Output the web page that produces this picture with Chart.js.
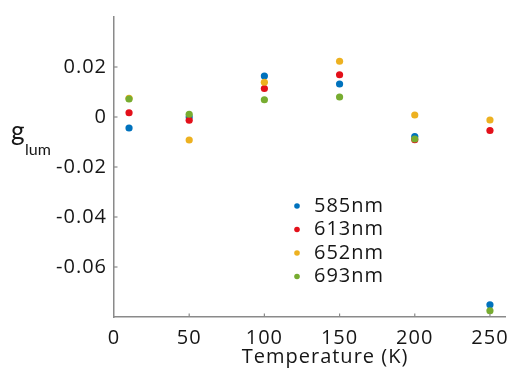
<!DOCTYPE html>
<html>
<head>
<meta charset="utf-8">
<script src="https://cdn.jsdelivr.net/npm/chart.js@4/dist/chart.umd.min.js"></script>
<style>
html,body{margin:0;padding:0;background:#fff;}
#wrap{width:511px;height:368px;position:relative;}
</style>
</head>
<body>
<div id="wrap"><canvas id="c" width="511" height="368"></canvas></div>
<script>
const temps = [10, 50, 100, 150, 200, 250];
const g585 = [-0.0044, 0.0000, 0.0164, 0.0132, -0.0078, -0.0751];
const g613 = [0.0017, -0.0013, 0.0114, 0.0169, -0.0091, -0.0054];
const g652 = [0.0075, -0.0092, 0.0139, 0.0223, 0.0008, -0.0012];
const g693 = [0.0072, 0.0011, 0.0069, 0.0080, -0.0088, -0.0775];
const seriesLabels = ['585nm', '613nm', '652nm', '693nm'];
const xTickValues = [0, 50, 100, 150, 200, 250];
const yTickValues = [-0.08, -0.06, -0.04, -0.02, 0, 0.02, 0.04];
const yLabeled = [-0.06, -0.04, -0.02, 0, 0.02];

const colors = ['#0072BD', '#E3101A', '#EDB120', '#77AC30'];
const FONT = '"Open Sans", sans-serif';
const GFONT = 'Lato, sans-serif';
const TXT = '#161616';
const AXIS = '#8a8a8a';
const SPACING = '1px';

function pts(arr){ return temps.map((t,i)=>({x:t,y:arr[i]})); }
const allSeries = [g585, g613, g652, g693];

const datasets = allSeries.map((s,i)=>({
  label: seriesLabels[i],
  data: pts(s),
  backgroundColor: colors[i],
  borderColor: colors[i],
  borderWidth: 0,
  pointRadius: 3.6,
  pointHoverRadius: 3.6,
  showLine: false,
  order: 3 - i
}));

const spacing = {
  id: 'spacing',
  beforeLayout(chart){ chart.ctx.letterSpacing = SPACING; },
  beforeDraw(chart){ chart.ctx.letterSpacing = SPACING; }
};

const decor = {
  id: 'decor',
  afterDatasetsDraw(chart){
    const ctx = chart.ctx;
    const xs = chart.scales.x, ys = chart.scales.y;
    ctx.save();
    ctx.letterSpacing = SPACING;
    // inward tick marks
    ctx.strokeStyle = AXIS; ctx.lineWidth = 1.2;
    xTickValues.slice(1).forEach(v=>{
      const px = xs.getPixelForValue(v);
      ctx.beginPath(); ctx.moveTo(px, ys.bottom); ctx.lineTo(px, ys.bottom-3.5); ctx.stroke();
    });
    yTickValues.slice(1,-1).forEach(v=>{
      const py = ys.getPixelForValue(v);
      ctx.beginPath(); ctx.moveTo(xs.left, py); ctx.lineTo(xs.left+3.5, py); ctx.stroke();
    });
    // legend
    ctx.textBaseline = 'middle';
    ctx.textAlign = 'left';
    ctx.font = '20px ' + FONT;
    chart.data.datasets.forEach((d,i)=>{
      const y = 206 + i*23.5;
      ctx.fillStyle = d.backgroundColor;
      ctx.beginPath(); ctx.arc(297, y, 2.8, 0, Math.PI*2); ctx.fill();
      ctx.fillStyle = TXT;
      ctx.fillText(d.label, 314, y);
    });
    // x title
    ctx.textAlign = 'center';
    ctx.textBaseline = 'alphabetic';
    ctx.font = '20px ' + FONT;
    ctx.fillText('Temperature (K)', 325, 363);
    // y title g_lum
    ctx.textAlign = 'left';
    ctx.letterSpacing = '0px';
    ctx.font = '26px ' + GFONT;
    ctx.fillText('g', 11, 140);
    ctx.font = '16px ' + GFONT;
    ctx.fillText('lum', 25, 155);
    ctx.restore();
  }
};

new Chart(document.getElementById('c'), {
  type: 'scatter',
  data: { datasets },
  options: {
    responsive: false,
    animation: false,
    layout: { padding: { top: 15, right: 6, left: 0, bottom: 0 } },
    plugins: { legend: { display: false }, tooltip: { enabled: false } },
    scales: {
      x: {
        type: 'linear', min: 0, max: 260,
        afterBuildTicks(s){ s.ticks = xTickValues.map(v=>({value:v})); },
        afterFit(s){ s.height = 51; s.paddingRight = 0; s.paddingLeft = 0; },
        grid: { display: false, drawTicks: false },
        border: { display: true, color: AXIS, width: 1.5 },
        ticks: { color: TXT, font: { family: FONT, size: 20 }, padding: 9, maxRotation: 0, autoSkip: false }
      },
      y: {
        type: 'linear', min: -0.08, max: 0.04,
        afterBuildTicks(s){ s.ticks = yTickValues.map(v=>({value:v})); },
        afterFit(s){ s.width = 114; },
        grid: { display: false, drawTicks: false },
        border: { display: true, color: AXIS, width: 1.5 },
        ticks: {
          color: TXT, font: { family: FONT, size: 20, lineHeight: 1 }, padding: 7, autoSkip: false,
          callback(v){
            const r = Math.round(v*100)/100;
            if (!yLabeled.some(t=>Math.abs(t-r)<1e-9)) return '';
            return r === 0 ? '0' : r.toFixed(2);
          }
        }
      }
    }
  },
  plugins: [spacing, decor]
});
</script>
</body>
</html>
